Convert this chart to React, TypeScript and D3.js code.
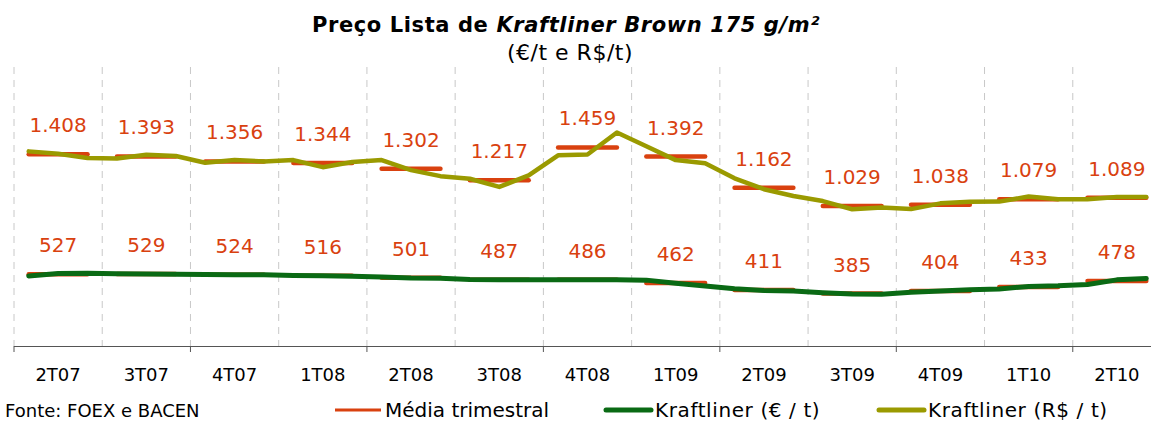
import * as d3 from "d3";

const quarters = ["2T07", "3T07", "4T07", "1T08", "2T08", "3T08", "4T08", "1T09", "2T09", "3T09", "4T09", "1T10", "2T10"];

// quarterly averages (labels)
const avgReal = [1408, 1393, 1356, 1344, 1302, 1217, 1459, 1392, 1162, 1029, 1038, 1079, 1089];
const avgEuro = [527, 529, 524, 516, 501, 487, 486, 462, 411, 385, 404, 433, 478];

// monthly values, 3 per quarter
const monthlyReal = [
  1430, 1412, 1382, 1377, 1406, 1396, 1346, 1366, 1356, 1366, 1314, 1352,
  1366, 1292, 1248, 1229, 1169, 1253, 1401, 1407, 1569, 1468, 1366, 1342,
  1232, 1152, 1102, 1065, 1005, 1017, 1006, 1048, 1060, 1061, 1098, 1078,
  1078, 1094, 1095,
];
const monthlyEuro = [
  515, 532, 534, 530, 529, 528, 525, 524, 523, 518, 517, 513,
  507, 499, 497, 488, 487, 486, 486, 486, 486, 484, 461, 441,
  420, 408, 405, 392, 382, 381, 395, 404, 413, 419, 438, 442,
  452, 486, 496,
];

const RED = "#D9410F";
const GREEN = "#0A6A14";
const OLIVE = "#9A9A00";
const FONT = "'DejaVu Sans', Verdana, sans-serif";

const fmt = (v: number) => d3.format(",")(v).replace(",", ".");

export default function App() {
  const width = 1151;
  const height = 422;
  const left = 14;
  const right = 1161;
  const top = 67;
  const bottom = 346;

  const x = d3.scaleBand<string>().domain(quarters).range([left, right]);
  const xm = d3.scalePoint<number>().domain(d3.range(monthlyReal.length)).range([left, right]).padding(0.5);
  const y = d3.scaleLinear().domain([0, 2050]).range([bottom, top]);

  const line = d3.line<number>().x((_, i) => xm(i)!).y(d => y(d));

  const bounds = quarters.map(q => x(q)!);

  return (
    <svg width={width} height={height} style={{ display: "block", position: "absolute", left: 0, top: 0 }} fontFamily={FONT}>
      <rect width={width} height={height} fill="#fff" />
      <text x={566} y={32} textAnchor="middle" fontSize={21} fontWeight="bold" letterSpacing={0.6} fill="#000">
        Preço Lista de <tspan fontStyle="italic">Kraftliner Brown 175 g/m²</tspan>
      </text>
      <text x={570} y={60} textAnchor="middle" fontSize={22} letterSpacing={0.5} fill="#000">(€/t e R$/t)</text>

      {bounds.map((b, i) => (
        <line key={"g" + i} x1={b} x2={b} y1={top} y2={bottom} stroke="#C8C8C8" strokeWidth={1} strokeDasharray="7,6" />
      ))}

      <line x1={left} x2={right} y1={bottom + 0.5} y2={bottom + 0.5} stroke="#555" strokeWidth={1} />
      {bounds.filter((_, i) => i % 2 === 0).map((b, i) => (
        <line key={"t" + i} x1={b} x2={b} y1={bottom} y2={bottom + 6} stroke="#555" strokeWidth={1} />
      ))}
      {quarters.map(q => (
        <text key={q} x={x(q)! + x.bandwidth() / 2} y={381} textAnchor="middle" fontSize={18} fill="#000">{q}</text>
      ))}

      {quarters.map((q, i) => (
        <g key={"s" + q}>
          <line x1={xm(i * 3)!} x2={xm(i * 3 + 2)!} y1={y(avgReal[i])} y2={y(avgReal[i])} stroke={RED} strokeWidth={4.5} strokeLinecap="round" />
          <line x1={xm(i * 3)!} x2={xm(i * 3 + 2)!} y1={y(avgEuro[i])} y2={y(avgEuro[i])} stroke={RED} strokeWidth={4.5} strokeLinecap="round" />
        </g>
      ))}

      <path d={line(monthlyEuro)!} fill="none" stroke={GREEN} strokeWidth={5} strokeLinejoin="round" strokeLinecap="round" />
      <path d={line(monthlyReal)!} fill="none" stroke={OLIVE} strokeWidth={4.5} strokeLinejoin="round" strokeLinecap="round" />

      {quarters.map((q, i) => (
        <g key={"l" + q} fontSize={20} fill={RED} textAnchor="middle">
          <text x={x(q)! + x.bandwidth() / 2} y={y(avgReal[i]) - 22}>{fmt(avgReal[i])}</text>
          <text x={x(q)! + x.bandwidth() / 2} y={y(avgEuro[i]) - 22}>{fmt(avgEuro[i])}</text>
        </g>
      ))}

      <text x={5} y={417} fontSize={18} fill="#000">Fonte: FOEX e BACEN</text>
      <line x1={335} x2={381} y1={410} y2={410} stroke={RED} strokeWidth={3} />
      <text x={385} y={417} fontSize={20} fill="#000">Média trimestral</text>
      <line x1={606} x2={651} y1={410} y2={410} stroke={GREEN} strokeWidth={5} strokeLinecap="round" />
      <text x={655} y={417} fontSize={20} letterSpacing={0.6} fill="#000">Kraftliner (€ / t)</text>
      <line x1={879} x2={924} y1={410} y2={410} stroke={OLIVE} strokeWidth={5} strokeLinecap="round" />
      <text x={928} y={417} fontSize={20} letterSpacing={0.6} fill="#000">Kraftliner (R$ / t)</text>
    </svg>
  );
}
